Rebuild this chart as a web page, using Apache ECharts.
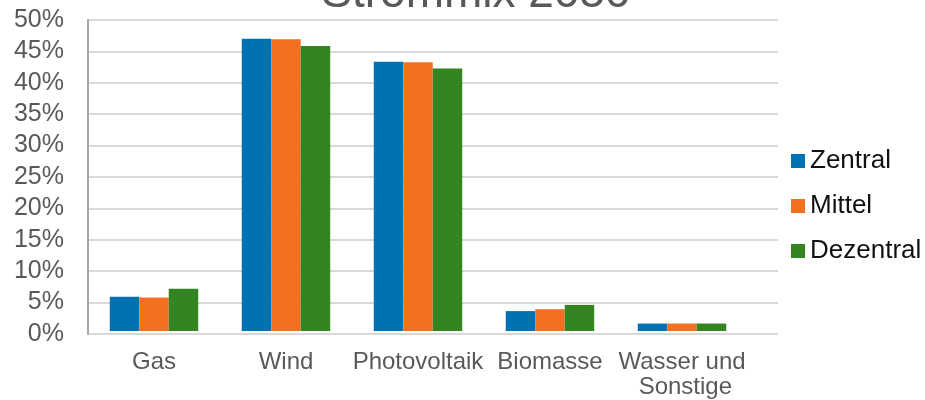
<!DOCTYPE html>
<html>
<head>
<meta charset="utf-8">
<title>Strommix 2050</title>
<script src="https://cdn.jsdelivr.net/npm/echarts@6/dist/echarts.min.js"></script>
<style>
  html, body { margin: 0; padding: 0; background: #fff; }
  #chart { width: 925px; height: 400px; }
</style>
</head>
<body>
<div id="chart"></div>
<script>
// Electricity mix 2050 by scenario (share of generation, %)
const categories = ['Gas', 'Wind', 'Photovoltaik', 'Biomasse', 'Wasser und Sonstige'];
const seriesNames = ['Zentral', 'Mittel', 'Dezentral'];
const zentral = [5.5, 47.0, 43.3, 3.2, 1.2];
const mittel = [5.4, 46.9, 43.2, 3.5, 1.2];
const dezentral = [6.8, 45.8, 42.2, 4.2, 1.2];
const yTicks = { min: 0, max: 50, interval: 5 };

const colors = ['#0071b3', '#f37021', '#348421'];
const values = [zentral, mittel, dezentral];
const font = 'Liberation Sans, Arial, sans-serif';
const gray = '#595959';

const chart = echarts.init(document.getElementById('chart'), null, { renderer: 'canvas' });
chart.setOption({
  animation: false,
  color: colors,
  title: {
    text: 'Strommix 2050',
    left: 471,
    top: -34,
    textAlign: 'center',
    textStyle: { fontFamily: font, fontSize: 46, fontWeight: 'normal', color: gray }
  },
  legend: {
    orient: 'vertical',
    left: 791,
    top: 148,
    padding: 0,
    itemWidth: 14,
    itemHeight: 14,
    itemGap: 19,
    icon: 'rect',
    textStyle: { fontFamily: font, fontSize: 26, color: '#111' },
    data: seriesNames
  },
  grid: [
    // plot frame: gridlines run the full width of the plot area
    { left: 88, right: 147, top: 20, bottom: 66 },
    // bars
    { left: 88, right: 177, top: 20, bottom: 66 }
  ],
  xAxis: [
    {
      gridIndex: 0, type: 'value', min: 0, max: 1,
      axisLine: { show: false }, axisTick: { show: false },
      axisLabel: { show: false }, splitLine: { show: false }
    },
    {
      gridIndex: 1,
      type: 'category',
      data: categories,
      axisTick: { show: false },
      axisLine: { show: false },
      axisLabel: {
        interval: 0,
        margin: 19,
        width: 132,
        overflow: 'break',
        lineHeight: 25,
        fontFamily: font,
        fontSize: 24,
        color: gray
      }
    }
  ],
  yAxis: [
    {
      gridIndex: 0,
      type: 'value',
      min: yTicks.min,
      max: yTicks.max,
      interval: yTicks.interval,
      axisLine: { show: true, lineStyle: { color: '#a6a6a6', width: 2 } },
      axisTick: { show: false },
      splitLine: { lineStyle: { color: '#d9d9d9', width: 2 } },
      axisLabel: {
        margin: 24,
        fontFamily: font,
        fontSize: 25,
        color: gray,
        formatter: v => v + '%'
      }
    },
    {
      gridIndex: 1,
      type: 'value',
      min: yTicks.min,
      max: yTicks.max,
      interval: yTicks.interval,
      show: false
    }
  ],
  series: seriesNames.map((name, i) => ({
    name,
    type: 'bar',
    xAxisIndex: 1,
    yAxisIndex: 1,
    data: values[i],
    barGap: '0%',
    barCategoryGap: '33%'
  }))
});
</script>
</body>
</html>
